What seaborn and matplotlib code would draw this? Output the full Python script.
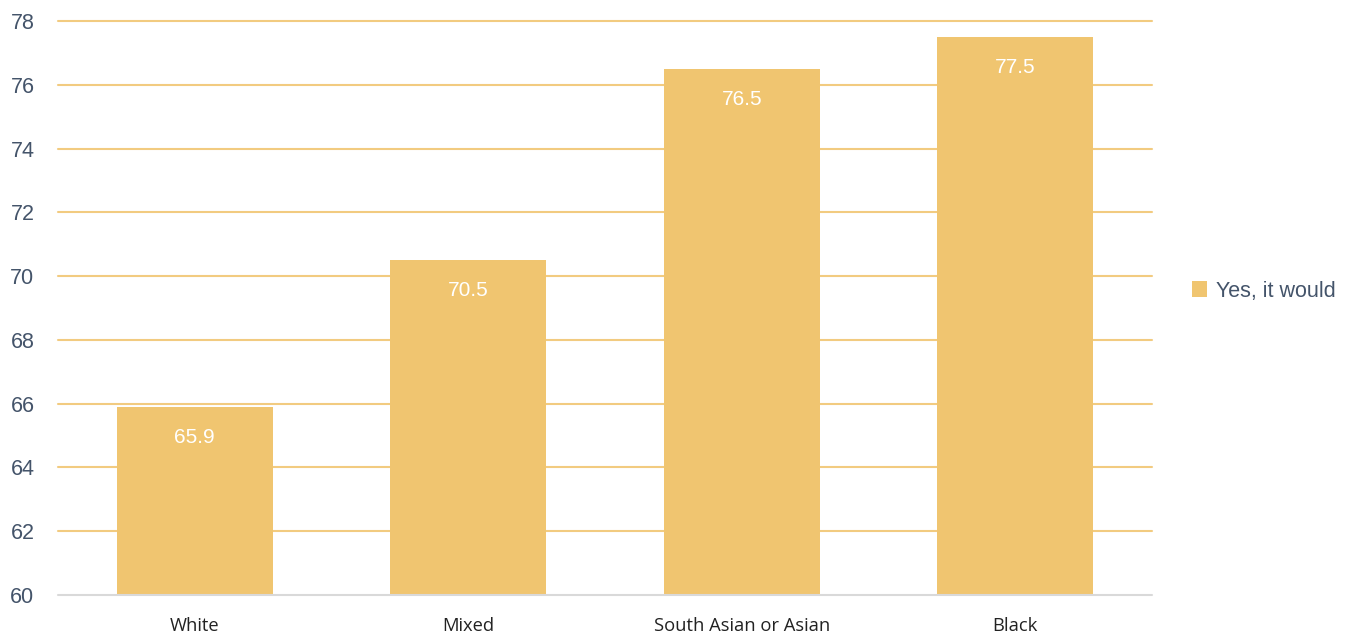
import matplotlib
matplotlib.use("Agg")
import matplotlib.pyplot as plt
import seaborn as sns
import pandas as pd
from matplotlib.patches import Patch

categories = ["White", "Mixed", "South Asian or Asian", "Black"]
values = [65.9, 70.5, 76.5, 77.5]
series_name = "Yes, it would"
y_ticks = [60, 62, 64, 66, 68, 70, 72, 74, 76, 78]

bar_color = "#F0C570"
grid_color = "#F2CB80"
tick_color = "#44546A"

df = pd.DataFrame({"group": categories, "pct": values})

sns.set_theme(style="white")
plt.rcParams["font.family"] = ["Liberation Sans", "DejaVu Sans"]
fig = plt.figure(figsize=(13.48, 6.33), dpi=100)
ax = fig.add_axes([58 / 1348, 1 - 595 / 633, (1152 - 58) / 1348, (595 - 21) / 633])

sns.barplot(data=df, x="group", y="pct", color=bar_color, width=0.57,
            saturation=1, linewidth=0, ax=ax, zorder=3)

ax.set_ylim(60, 78)
ax.set_xlim(-0.5, 3.5)
ax.set_yticks(y_ticks)
for t in y_ticks[1:]:
    ax.axhline(t, color=grid_color, lw=1.5, zorder=1, clip_on=False)
ax.axhline(60, color="#D9D9D9", lw=1.5, zorder=4, clip_on=False)

for s in ax.spines.values():
    s.set_visible(False)

ax.set_xlabel("")
ax.set_ylabel("")
ax.tick_params(axis="y", length=0, pad=17, labelsize=15.5, labelcolor=tick_color)
ax.tick_params(axis="x", length=0, pad=16, labelsize=13.2, labelcolor="#222222")
for lab in ax.get_yticklabels():
    lab.set_family("Liberation Sans")
for lab in ax.get_xticklabels():
    lab.set_family("Open Sans")

for i, v in enumerate(values):
    ax.annotate(f"{v:.1f}", xy=(i, v), xytext=(0, -22), textcoords="offset points",
                ha="center", va="center", color="white", fontsize=15,
                family="Liberation Sans", zorder=5)

handle = Patch(facecolor=bar_color, edgecolor="none")
fig.legend([handle], [series_name], loc="center left",
           bbox_to_anchor=(1173 / 1348, 1 - 291 / 633), frameon=False,
           handlelength=0.7, handleheight=0.7, handletextpad=0.4,
           prop={"family": "Liberation Sans", "size": 15.5}, labelcolor=tick_color)

fig.savefig("out.png", dpi=100)
